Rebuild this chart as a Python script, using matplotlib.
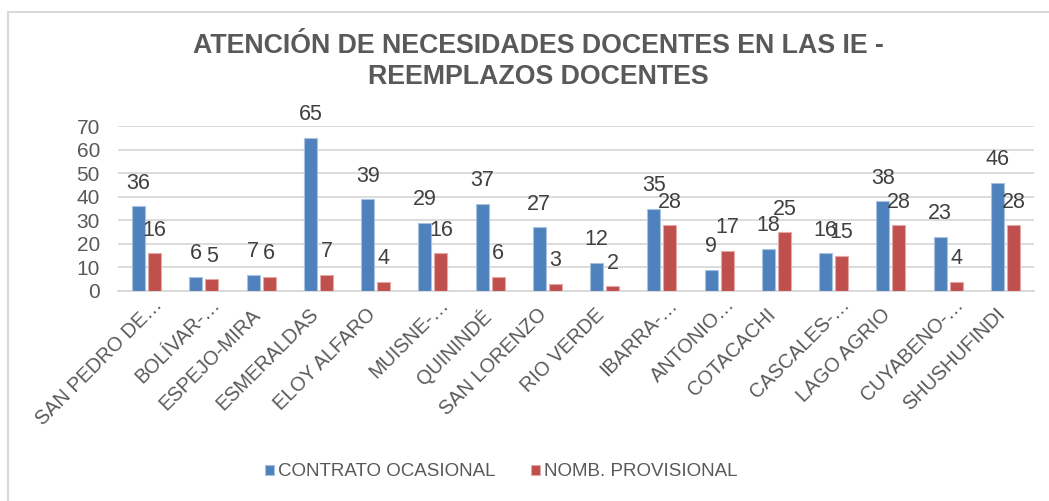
import matplotlib
matplotlib.use("Agg")
import matplotlib.pyplot as plt
from matplotlib.patches import Rectangle
from matplotlib.transforms import ScaledTranslation
import numpy as np

categories = ["SAN PEDRO DE…", "BOLÍVAR-…", "ESPEJO-MIRA", "ESMERALDAS", "ELOY ALFARO",
              "MUISNE-…", "QUININDÉ", "SAN LORENZO", "RIO VERDE", "IBARRA-…",
              "ANTONIO…", "COTACACHI", "CASCALES-…", "LAGO AGRIO", "CUYABENO-…", "SHUSHUFINDI"]
contrato = [36, 6, 7, 65, 39, 29, 37, 27, 12, 35, 9, 18, 16, 38, 23, 46]
nomb = [16, 5, 6, 7, 4, 16, 6, 3, 2, 28, 17, 25, 15, 28, 4, 28]
series_names = ["CONTRATO OCASIONAL", "NOMB. PROVISIONAL"]
title = "ATENCIÓN DE NECESIDADES DOCENTES EN LAS IE -\nREEMPLAZOS DOCENTES"

plt.rcParams['font.family'] = ['Liberation Sans', 'DejaVu Sans']
TXT = '#595959'
BLUE = '#4F81BD'
RED = '#C0504D'

W, H = 1049, 501
fig = plt.figure(figsize=(W/100, H/100), dpi=100)
ax = fig.add_axes([118/W, 1-291/H, (1034-118)/W, (291-126)/H])

# outer border
fig.patches.append(Rectangle((8/W, -0.1), 1.2, 1-12/H+0.1, transform=fig.transFigure,
                             fill=False, edgecolor='#d9d9d9', linewidth=1.5))

x = np.arange(len(categories))
bw = 0.23
off = 0.14
b1 = ax.bar(x - off, contrato, bw, color=BLUE, edgecolor='#a9c2e0', linewidth=0.8, zorder=3,
            label=series_names[0])
b2 = ax.bar(x + off, nomb, bw, color=RED, edgecolor='#e2a9a7', linewidth=0.8, zorder=3,
            label=series_names[1])

for bars, vals in ((b1, contrato), (b2, nomb)):
    for rect, v in zip(bars, vals):
        ax.annotate(str(v), (rect.get_x() + rect.get_width()/2, v),
                    xytext=(0, 23), textcoords='offset pixels',
                    ha='center', va='center', fontsize=15.5, color='#404040', zorder=5)

ax.set_ylim(0, 70)
ax.set_xlim(-0.5, len(categories) - 0.5)
ax.set_yticks(range(0, 71, 10))
ax.yaxis.grid(True, color='#d9d9d9', linewidth=1.3, zorder=0)
ax.set_axisbelow(True)
for s in ('top', 'right', 'left'):
    ax.spines[s].set_visible(False)
ax.spines['bottom'].set_color('#d9d9d9')
ax.spines['bottom'].set_linewidth(1.3)
ax.tick_params(axis='y', length=0, labelsize=15, labelcolor=TXT, pad=13)
ax.tick_params(axis='x', length=0, labelsize=14.3, labelcolor=TXT, pad=10)
ax.set_xticks(x)
ax.set_xticklabels(categories, rotation=45, ha='right', va='top', rotation_mode='anchor')
for lab in ax.get_xticklabels():
    if lab.get_text().endswith('…'):
        dx, dy = 6, 10
    else:
        dx, dy = -10, 0
    lab.set_transform(lab.get_transform() + ScaledTranslation(dx/100, dy/100, fig.dpi_scale_trans))

fig.text(538/W, 1-62/H, title, ha='center', va='center', fontsize=19.3,
         fontweight='bold', color=TXT, linespacing=1.25)

leg = fig.legend(loc='center', bbox_to_anchor=(501/W, 1-472/H), ncol=2, frameon=False,
                 fontsize=13.5, handlelength=0.5, handleheight=0.5, handletextpad=0.2,
                 columnspacing=1.9)
for t in leg.get_texts():
    t.set_color(TXT)

fig.savefig("out.png", dpi=100)
